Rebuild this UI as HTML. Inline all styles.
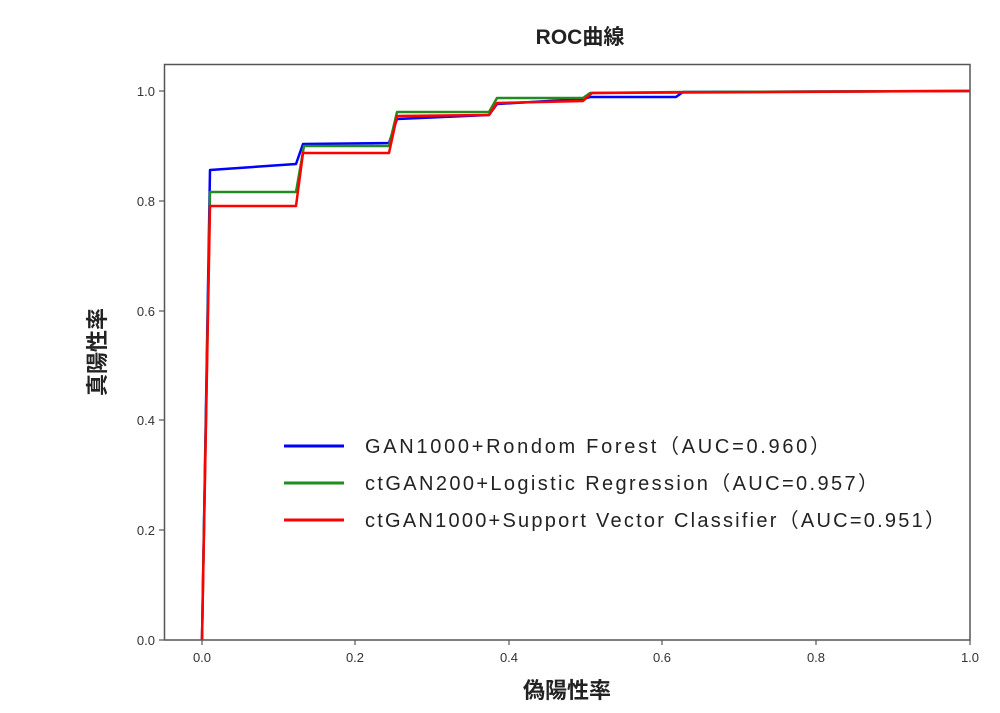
<!DOCTYPE html>
<html><head><meta charset="utf-8"><style>
body{margin:0;background:#fff}
svg text{font-family:"Liberation Sans","Noto Sans CJK JP",sans-serif}
</style></head><body>
<svg width="1000" height="708" xmlns="http://www.w3.org/2000/svg">
<rect width="1000" height="708" fill="#fff"/>
<text x="580" y="44" font-size="21" font-weight="bold" text-anchor="middle" fill="#222">ROC曲線</text>
<g fill="none" stroke-width="2.5" stroke-linejoin="round">
<polyline stroke="#0000ff" points="202,640 210,170 296,164 303,144 389,143 397,119 489,115 497,104 583,99 590,97 676,97 683,92 970,91"/>
<polyline stroke="#228B22" points="202,640 210,192 296,192 304,146 389,146 397,112 489,112 497,98 583,98 590,93 683,92 970,91"/>
<polyline stroke="#ff0000" points="202,640 210,206 296,206 303,153 389,153 397,116 489,115 497,103 583,101 592,93 970,91"/>
</g>
<rect x="164.5" y="64.5" width="805.5" height="575.5" fill="none" stroke="#555" stroke-width="1.5"/>
<g stroke="#555" stroke-width="1.2">
<line x1="202" y1="640" x2="202" y2="645"/><line x1="355" y1="640" x2="355" y2="645"/><line x1="509" y1="640" x2="509" y2="645"/><line x1="662" y1="640" x2="662" y2="645"/><line x1="816" y1="640" x2="816" y2="645"/><line x1="970" y1="640" x2="970" y2="645"/>
<line x1="159" y1="640" x2="164" y2="640"/><line x1="159" y1="530" x2="164" y2="530"/><line x1="159" y1="420" x2="164" y2="420"/><line x1="159" y1="311" x2="164" y2="311"/><line x1="159" y1="201" x2="164" y2="201"/><line x1="159" y1="91" x2="164" y2="91"/>
</g>
<g font-size="13" fill="#333" text-anchor="middle">
<text x="202" y="662">0.0</text><text x="355" y="662">0.2</text><text x="509" y="662">0.4</text><text x="662" y="662">0.6</text><text x="816" y="662">0.8</text><text x="970" y="662">1.0</text>
</g>
<g font-size="13" fill="#333" text-anchor="end">
<text x="155" y="645">0.0</text><text x="155" y="535">0.2</text><text x="155" y="425">0.4</text><text x="155" y="316">0.6</text><text x="155" y="206">0.8</text><text x="155" y="96">1.0</text>
</g>
<text x="567" y="698" font-size="22" font-weight="bold" text-anchor="middle" fill="#222">偽陽性率</text>
<text transform="translate(105,352) rotate(-90)" font-size="22" font-weight="bold" text-anchor="middle" fill="#222">真陽性率</text>
<g stroke-width="3">
<line x1="284" y1="446" x2="344" y2="446" stroke="#0000ff"/>
<line x1="284" y1="483" x2="344" y2="483" stroke="#228B22"/>
<line x1="284" y1="520" x2="344" y2="520" stroke="#ff0000"/>
</g>
<g font-size="20" fill="#222">
<text x="365" y="453" textLength="465" lengthAdjust="spacing">GAN1000+Rondom Forest（AUC=0.960）</text>
<text x="365" y="490" textLength="513" lengthAdjust="spacing">ctGAN200+Logistic Regression（AUC=0.957）</text>
<text x="365" y="527" textLength="580" lengthAdjust="spacing">ctGAN1000+Support Vector Classifier（AUC=0.951）</text>
</g>
</svg>
</body></html>
